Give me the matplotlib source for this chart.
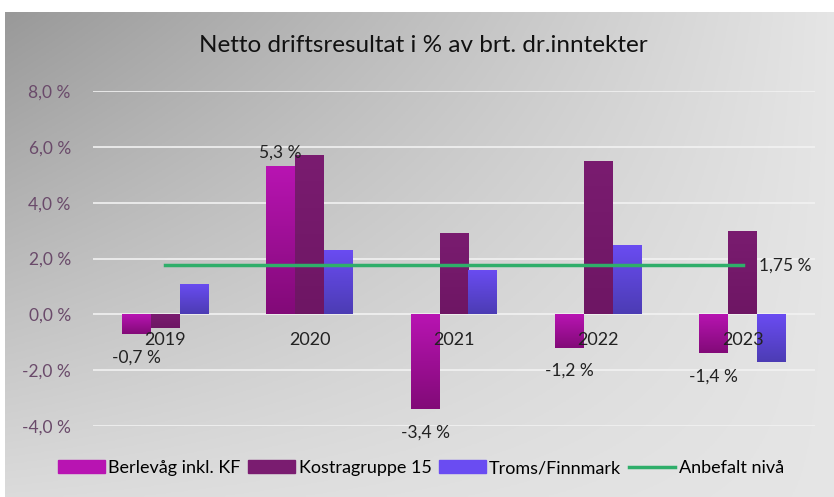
import numpy as np
import matplotlib
matplotlib.use("Agg")
import matplotlib.pyplot as plt
from matplotlib.lines import Line2D
from matplotlib.patches import Patch
from matplotlib.colors import to_rgb

plt.rcParams['font.family'] = ['Lato', 'DejaVu Sans']

years = ['2019', '2020', '2021', '2022', '2023']
berlevag = [-0.7, 5.3, -3.4, -1.2, -1.4]
kostra = [-0.5, 5.7, 2.9, 5.5, 3.0]
troms = [1.1, 2.3, 1.6, 2.5, -1.7]
anbefalt = [1.75, 1.75, 1.75, 1.75, 1.75]
series_names = ['Berlevåg inkl. KF', 'Kostragruppe 15', 'Troms/Finnmark', 'Anbefalt nivå']
yticks = [-4, -2, 0, 2, 4, 6, 8]

# (top colour, bottom colour) of each bar gradient
c_berl = ('#b814b2', '#820a78')
c_kost = ('#7a1c70', '#6e1664')
c_trom = ('#6a4cf2', '#4c3cb4')
c_line = '#2fae6a'


def pct(v, d=1):
    return (('%.' + str(d) + 'f %%') % v).replace('.', ',')


def gradient_bars(ax, xs, vals, width, cols):
    top, bot = np.array(to_rgb(cols[0])), np.array(to_rgb(cols[1]))
    t = np.linspace(0, 1, 64)[:, None]
    img = (top * (1 - t) + bot * t)[:, None, :]
    bars = ax.bar(xs, vals, width, color='none', zorder=3)
    for b in bars:
        x0, y0 = b.get_x(), b.get_y()
        x1, y1 = x0 + b.get_width(), y0 + b.get_height()
        im = ax.imshow(img, extent=[x0, x1, min(y0, y1), max(y0, y1)],
                       origin='upper', aspect='auto', zorder=3)
        im.set_clip_path(b)
    return bars


fig = plt.figure(figsize=(8.34, 4.97), dpi=100)
fig.patch.set_facecolor('white')

# gray gradient background of the chart box
bg = fig.add_axes([5/834, 0, 829/834, 1 - 12/497])
gx = np.linspace(0, 1, 300)
gy = np.linspace(0, 1, 200)
X, Y = np.meshgrid(gx, gy)
g = 0.60 * (1 - X) * (1 - Y) + 0.86 * (1 - (1 - X) * (1 - Y))
g = np.clip(g + 0.04 * X, 0, 1)
bg.imshow(np.dstack([g, g, g]), aspect='auto', extent=[0, 1, 0, 1], origin='upper')
bg.set_axis_off()

ax = fig.add_axes([93/834, 1 - 426/497, 722/834, (426 - 91)/497])
ax.patch.set_alpha(0)
x = np.arange(len(years))
w = 0.2
gradient_bars(ax, x - w, berlevag, w, c_berl)
gradient_bars(ax, x, kostra, w, c_kost)
gradient_bars(ax, x + w, troms, w, c_trom)
ax.plot(x, anbefalt, color=c_line, lw=2.5, zorder=4)

ax.set_xlim(-0.5, len(years) - 0.5)
ax.set_ylim(-4, 8)
ax.set_yticks(yticks)
ax.set_yticklabels([pct(v) for v in yticks], color='#6a4a6a', fontsize=12.5)
ax.tick_params(axis='y', length=0, pad=16)
ax.grid(axis='y', color='#f2f2f2', lw=1.2, zorder=1)
for s in ax.spines.values():
    s.set_visible(False)
ax.set_xticks([])

# category labels sit on the zero line
for i, yr in enumerate(years):
    ax.annotate(yr, (i, 0), xytext=(0, -13), textcoords='offset points',
                ha='center', va='top', fontsize=13, color='#222222', zorder=5)

# data labels for Berlevåg
for i, v in enumerate(berlevag):
    if v >= 0:
        ax.annotate(pct(v), (i - w, v), xytext=(0, 4), textcoords='offset points',
                    ha='center', va='bottom', fontsize=12.5, color='#222222', zorder=5)
    else:
        ax.annotate(pct(v), (i - w, v), xytext=(0, -11), textcoords='offset points',
                    ha='center', va='top', fontsize=12.5, color='#222222', zorder=5)

ax.annotate(pct(anbefalt[-1], 2), (x[-1], anbefalt[-1]),
            xytext=(12, 0), textcoords='offset points', ha='left', va='center',
            fontsize=12.5, color='#222222', zorder=5)

fig.text(423/834, 1 - 45/497, 'Netto driftsresultat i % av brt. dr.inntekter',
         ha='center', va='center', fontsize=17.5, color='#111111')

handles = [Patch(color=c_berl[0]), Patch(color=c_kost[0]), Patch(color=c_trom[0]),
           Line2D([], [], color=c_line, lw=2.5)]
fig.legend(handles, series_names, loc='center', bbox_to_anchor=(421/834, 1 - 468/497),
           ncol=4, frameon=False, fontsize=13, handlelength=2.6, handleheight=0.7,
           columnspacing=0.4, handletextpad=0.2)

fig.savefig('out.png', dpi=100)
